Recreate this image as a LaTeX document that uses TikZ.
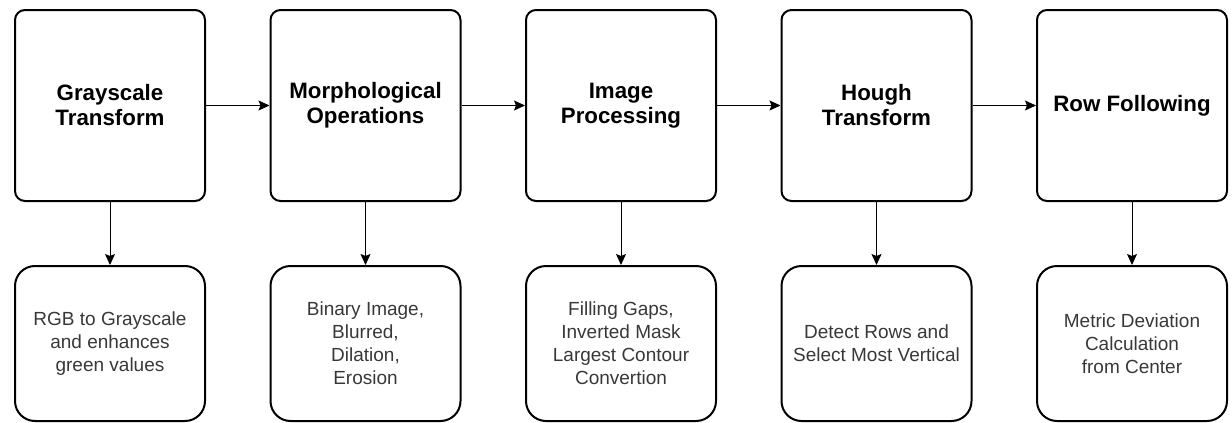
\documentclass[tikz,border=0pt]{standalone}
\usepackage{fontspec}
\setmainfont{Liberation Sans}
\usetikzlibrary{arrows.meta}

\tikzset{
  stage/.style={draw, line width=2pt, rounded corners=10pt, minimum width=190pt, minimum height=191pt,
    inner sep=0pt, align=center, font=\bfseries\fontsize{22.3}{25}\selectfont},
  detail/.style={draw, line width=2pt, rounded corners=20pt, minimum width=190pt, minimum height=155pt,
    inner sep=0pt, align=center, text=black!78, font=\fontsize{19}{23}\selectfont},
  link/.style={-{Stealth[length=11pt, width=10pt, inset=2pt]}, line width=1pt}
}

\begin{document}
\begin{tikzpicture}[x=1pt, y=-1pt]
\useasboundingbox (0,0) rectangle (1232,423);

% Stages (top) and their details (bottom)
\foreach \i/\stagetext/\detailtext in {
    1/{Grayscale\\Transform}/{RGB to Grayscale\\and enhances\\green values},
    2/{Morphological\\Operations}/{Binary Image,\\Blurred,\\Dilation,\\Erosion},
    3/{Image\\Processing}/{Filling Gaps,\\Inverted Mask\\Largest Contour\\Convertion},
    4/{Hough\\Transform}/{Detect Rows and\\Select Most Vertical},
    5/{Row Following}/{Metric Deviation\\Calculation\\from Center}} {
    \node[stage] (s\i) at ({110+255.5*(\i-1)},105.5) {\stagetext};
    \node[detail] (d\i) at ({110+255.5*(\i-1)},343.5) {\detailtext};
    \draw[link] (s\i) -- (d\i);
}

% Flow between stages
\foreach \i/\j in {1/2, 2/3, 3/4, 4/5} {
    \draw[link] (s\i) -- (s\j);
}
\end{tikzpicture}
\end{document}
